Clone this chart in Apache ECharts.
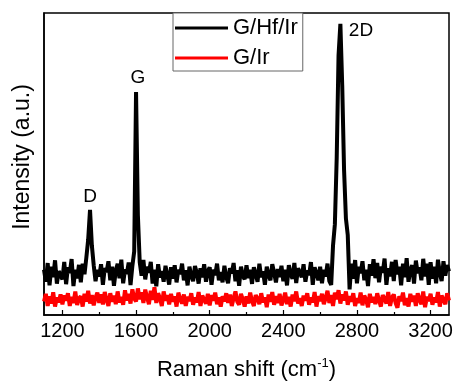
<!DOCTYPE html>
<html>
<head>
<meta charset="utf-8">
<script src="https://cdn.jsdelivr.net/npm/echarts@6/dist/echarts.min.js"></script>
<style>
  html, body { margin: 0; padding: 0; background: #fff; }
  #main { width: 458px; height: 381px; }
</style>
</head>
<body>
<div id="main"></div>
<script>
// x grid: 1100 .. 3300 cm-1, one value every 10 cm-1
var shiftStart = 1100;
var shiftStep = 10;

var seriesNames = ['G/Hf/Ir', 'G/Ir'];

// G/Hf/Ir spectrum (arbitrary units 0..1000)
var hfIr = [
    150,110,172,98,160,125,181,104,145,132,
    118,176,102,158,139,185,96,150,121,166,
    108,170,135,190,250,348,230,165,112,150,
    128,168,100,155,142,178,115,160,97,147,
    170,122,183,105,151,136,174,99,162,210,
    738,330,175,130,182,118,160,140,176,104,
    150,95,168,124,145,110,163,132,101,158,
    120,165,108,150,135,170,115,148,98,160,
    130,112,162,140,104,155,125,168,110,145,
    158,100,150,132,170,115,142,108,163,125,
    105,155,138,172,112,148,97,160,130,118,
    165,122,150,103,158,136,110,170,125,145,
    100,160,132,115,168,140,108,152,126,163,
    112,150,98,165,135,120,172,106,155,140,
    125,168,110,147,132,175,100,158,138,115,
    160,105,150,128,170,112,100,230,300,520,
    860,964,760,480,320,265,85,170,120,182,
    105,160,138,178,115,150,96,168,130,185,
    122,172,108,160,140,187,100,155,128,176,
    112,182,135,160,98,170,125,188,110,150,
    165,104,180,138,158,115,186,128,170,100,
    175,120,160,105,183,140,112,178,130,165,
    145
];

// G/Ir spectrum
var gIr = [
    45,70,30,62,38,75,28,58,42,68,
    35,65,48,72,30,60,40,78,33,55,
    62,28,70,45,80,38,66,32,58,74,
    40,68,35,76,50,30,72,44,64,36,
    78,42,60,34,82,48,70,38,85,55,
    45,88,52,75,40,84,58,36,80,50,
    92,40,72,55,30,78,48,66,35,70,
    44,62,28,74,52,38,68,30,60,46,
    72,34,58,42,76,30,64,50,38,70,
    32,66,48,74,36,58,28,62,45,72,
    40,68,30,56,78,44,34,70,52,28,
    62,38,74,46,30,66,54,36,72,42,
    58,26,68,44,76,34,62,40,70,32,
    50,74,36,60,28,68,46,78,38,56,
    30,64,48,72,34,58,42,76,28,62,
    46,70,36,56,80,40,66,30,74,52,
    82,38,68,48,78,34,62,44,72,30,
    56,40,74,32,64,50,26,70,42,60,
    36,72,48,28,66,54,38,76,30,58,
    68,40,24,62,46,74,32,56,28,70,
    44,64,30,72,50,36,78,26,60,46,
    70,34,58,42,76,28,64,50,36,72,
    48
];

var majorTicks = [1200, 1600, 2000, 2400, 2800, 3200];
var minorTicks = [1400, 1800, 2200, 2600, 3000];

// peak annotations
var peakNames = ['D', 'G', '2D'];
var peakLabelX = [1350, 1610, 2822];
var peakLabelY = [391, 785, 940];

var fontName = '"Liberation Sans", Arial, sans-serif';

function toPairs(values) {
    var out = [];
    for (var i = 0; i < values.length; i++) {
        out.push([shiftStart + i * shiftStep, values[i]]);
    }
    return out;
}

function peakMarks() {
    var out = [];
    for (var i = 0; i < peakNames.length; i++) {
        out.push({ name: peakNames[i], coord: [peakLabelX[i], peakLabelY[i]] });
    }
    return out;
}

var myChart = echarts.init(document.getElementById('main'));

var option = {
    animation: false,
    textStyle: { fontFamily: fontName },
    grid: {
        left: 44, right: 9, top: 13, bottom: 66,
        outerBoundsMode: 'none', containLabel: false,
        show: true, borderColor: '#000', borderWidth: 1.5
    },
    legend: {
        orient: 'vertical',
        left: 173, top: 13,
        padding: [4, 5, 2, 2],
        itemWidth: 53, itemHeight: 3, itemGap: 8,
        icon: 'rect',
        backgroundColor: '#fff',
        borderColor: '#666', borderWidth: 1,
        textStyle: { fontSize: 22, color: '#000', fontFamily: fontName },
        data: seriesNames
    },
    xAxis: [
        {
            type: 'value', min: 1100, max: 3300,
            name: 'Raman shift (cm{sup|-1})',
            nameLocation: 'middle', nameGap: 42,
            nameTextStyle: {
                fontSize: 22, color: '#000', fontFamily: fontName,
                rich: { sup: { fontSize: 13, color: '#000', padding: [0, 0, 12, 0] } }
            },
            axisLine: { lineStyle: { color: '#000', width: 1.5 } },
            axisTick: { inside: true, length: 5, customValues: majorTicks, lineStyle: { color: '#000', width: 1.2 } },
            axisLabel: {
                customValues: majorTicks, fontSize: 20, color: '#000', margin: 6, fontFamily: fontName,
                formatter: function (v) { return String(v); }
            },
            splitLine: { show: false }
        },
        {
            type: 'value', min: 1100, max: 3300, position: 'bottom',
            axisLine: { show: false },
            axisTick: { inside: true, length: 3, customValues: minorTicks, lineStyle: { color: '#000', width: 1.2 } },
            axisLabel: { show: false },
            splitLine: { show: false }
        }
    ],
    yAxis: {
        type: 'value', min: 0, max: 1000,
        name: 'Intensity (a.u.)',
        nameLocation: 'middle', nameGap: 10,
        nameTextStyle: { fontSize: 23, color: '#000', fontFamily: fontName, padding: [0, 0, 0, 14] },
        axisLine: { show: true, lineStyle: { color: '#000', width: 1.5 } },
        axisTick: { show: false },
        axisLabel: { show: false },
        splitLine: { show: false }
    },
    series: [
        {
            name: seriesNames[0],
            type: 'line',
            data: toPairs(hfIr),
            showSymbol: false,
            color: '#000',
            lineStyle: { color: '#000', width: 4 },
            z: 3,
            markPoint: {
                symbol: 'circle', symbolSize: 1,
                itemStyle: { color: 'transparent' },
                label: { show: true, position: 'inside', formatter: '{b}', fontSize: 19, color: '#000', fontFamily: fontName },
                data: peakMarks()
            }
        },
        {
            name: seriesNames[1],
            type: 'line',
            data: toPairs(gIr),
            showSymbol: false,
            color: '#ff0000',
            lineStyle: { color: '#ff0000', width: 4 },
            z: 2
        }
    ]
};

myChart.setOption(option);
</script>
</body>
</html>
